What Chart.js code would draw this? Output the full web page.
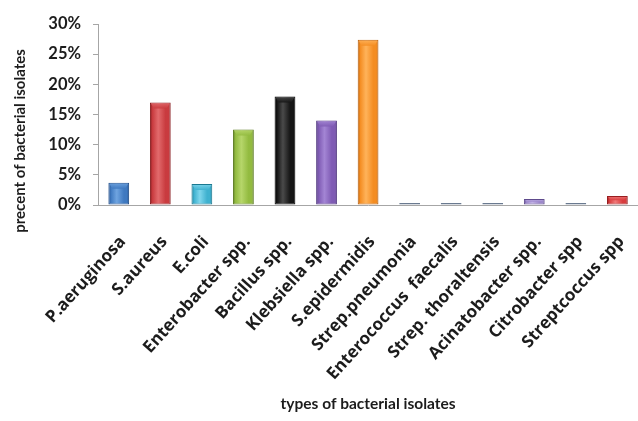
<!DOCTYPE html>
<html>
<head>
<meta charset="utf-8">
<script src="https://cdn.jsdelivr.net/npm/chart.js@4.4.1/dist/chart.umd.min.js"></script>
<style>
  html, body { margin: 0; padding: 0; background: #fff; overflow: hidden; }
  #wrap { width: 638px; height: 421px; overflow: hidden; position: relative; }
  canvas { display: block; }
</style>
</head>
<body>
<div id="wrap"><canvas id="chart" width="660" height="421"></canvas></div>
<script>
// Share of each bacterial isolate type (percent)
const categories = [
  "P.aeruginosa", "S.aureus", "E.coli", "Enterobacter spp.", "Bacillus spp.",
  "Klebsiella spp.", "S.epidermidis", "Strep.pneumonia", "Enterococcus  faecalis",
  "Strep. thoraltensis", "Acinatobacter spp.", "Citrobacter spp", "Streptcoccus spp"
];
const percentValues = [3.7, 17, 3.5, 12.5, 18, 14, 27.4, 0, 0, 0, 1, 0, 1.5];
const yTickValues = [0, 5, 10, 15, 20, 25, 30];

// Bar colours: [light, mid, dark]
const barPalette = [
  ["#6fa4e0", "#3f79c0", "#1d4a86"],
  ["#e26a6c", "#c93b3f", "#8a1f22"],
  ["#7fd6ec", "#3fb1cf", "#1a7890"],
  ["#b6d66a", "#93bb40", "#5a7a1c"],
  ["#4a4a4a", "#151515", "#000000"],
  ["#a385d4", "#7f5bb4", "#4a2f7c"],
  ["#ffb35a", "#f48d22", "#b85e0a"],
  ["#9aa8ba", "#7e8ea4", "#6a7a90"],
  ["#9aa8ba", "#7e8ea4", "#6a7a90"],
  ["#9aa8ba", "#7e8ea4", "#6a7a90"],
  ["#c2b2e6", "#9d88cc", "#5e4a8c"],
  ["#9aa8ba", "#7e8ea4", "#6a7a90"],
  ["#f07a7a", "#d83c3e", "#981e20"]
];

const textColor = "#1c1c1c";
const axisColor = "#a6a6a6";
const fontFamily = "Lato, 'Open Sans', 'DejaVu Sans', sans-serif";
const labelFamily = "'Open Sans', Lato, 'DejaVu Sans', sans-serif";

function barFill(ctx) {
  const chart = ctx.chart;
  const pal = barPalette[ctx.dataIndex] || barPalette[0];
  const xs = chart.scales && chart.scales.x;
  if (!chart.chartArea || !xs || ctx.type !== "data") return pal[1];
  const cx = xs.getPixelForValue(ctx.dataIndex);
  const w = (xs.width / categories.length) * 0.5;
  const g = chart.ctx.createLinearGradient(cx - w / 2, 0, cx + w / 2, 0);
  g.addColorStop(0, pal[2]);
  g.addColorStop(0.12, pal[1]);
  g.addColorStop(0.4, pal[0]);
  g.addColorStop(0.75, pal[1]);
  g.addColorStop(0.9, pal[1]);
  g.addColorStop(1, pal[2]);
  return g;
}

// Lighter bevelled cap on top of each bar
const bevelCaps = {
  id: "bevelCaps",
  afterDatasetsDraw(chart) {
    const ctx = chart.ctx;
    const meta = chart.getDatasetMeta(0);
    meta.data.forEach((bar, i) => {
      const h = bar.base - bar.y;
      if (h < 5) return;
      const pal = barPalette[i];
      const l = bar.x - bar.width / 2, r = bar.x + bar.width / 2, t = bar.y;
      const d = Math.min(6, h / 2);
      ctx.save();
      ctx.beginPath();
      ctx.moveTo(l + 1, t + 1);
      ctx.lineTo(r - 1, t + 1);
      ctx.lineTo(r - 4, t + d);
      ctx.lineTo(l + 4, t + d);
      ctx.closePath();
      const g = ctx.createLinearGradient(0, t, 0, t + d);
      g.addColorStop(0, pal[0]);
      g.addColorStop(1, pal[1]);
      ctx.fillStyle = g;
      ctx.globalAlpha = 0.9;
      ctx.fill();
      ctx.restore();
    });
  }
};

// Rotated y-axis caption
const yCaption = {
  id: "yCaption",
  afterDraw(chart) {
    const ctx = chart.ctx;
    ctx.save();
    ctx.translate(20, 141);
    ctx.rotate(-Math.PI / 2);
    ctx.font = "bold 15px " + fontFamily;
    ctx.fillStyle = textColor;
    ctx.textAlign = "center";
    ctx.textBaseline = "middle";
    ctx.fillText("precent of bacterial isolates", 0, 0);
    ctx.restore();
  }
};

new Chart(document.getElementById("chart"), {
  type: "bar",
  data: {
    labels: categories,
    datasets: [{
      data: percentValues,
      backgroundColor: barFill,
      borderColor: (c) => (barPalette[c.dataIndex] || barPalette[0])[2],
      borderWidth: 1,
      borderSkipped: false,
      minBarLength: 2,
      categoryPercentage: 1,
      barPercentage: 0.5
    }]
  },
  options: {
    responsive: false,
    animation: false,
    devicePixelRatio: 1,
    layout: { padding: { top: 24, right: 12, bottom: 0, left: 0 } },
    plugins: { legend: { display: false }, tooltip: { enabled: false } },
    scales: {
      x: {
        grid: { display: false, drawTicks: false },
        border: { display: true, color: axisColor, width: 1 },
        ticks: {
          color: textColor,
          font: { family: labelFamily, size: 17, weight: "bold" },
          minRotation: 48, maxRotation: 48,
          padding: 27,
          labelOffset: 4,
          autoSkip: false
        },
        title: {
          display: true,
          text: "types of bacterial isolates",
          color: textColor,
          font: { family: fontFamily, size: 15.5, weight: "bold" },
          padding: { top: 0, bottom: 8 }
        },
        afterFit(scale) { scale.height = 216; }
      },
      y: {
        min: 0, max: 30,
        afterBuildTicks(scale) { scale.ticks = yTickValues.map(v => ({ value: v })); },
        grid: { display: true, drawOnChartArea: false, drawTicks: true, tickLength: 5, color: axisColor },
        border: { display: true, color: axisColor, width: 1 },
        ticks: {
          color: textColor,
          font: { family: fontFamily, size: 16.5, weight: "bold" },
          padding: 12,
          callback: (v) => v + "%"
        },
        afterFit(scale) { scale.width = 98; }
      }
    }
  },
  plugins: [bevelCaps, yCaption]
});
</script>
</body>
</html>
